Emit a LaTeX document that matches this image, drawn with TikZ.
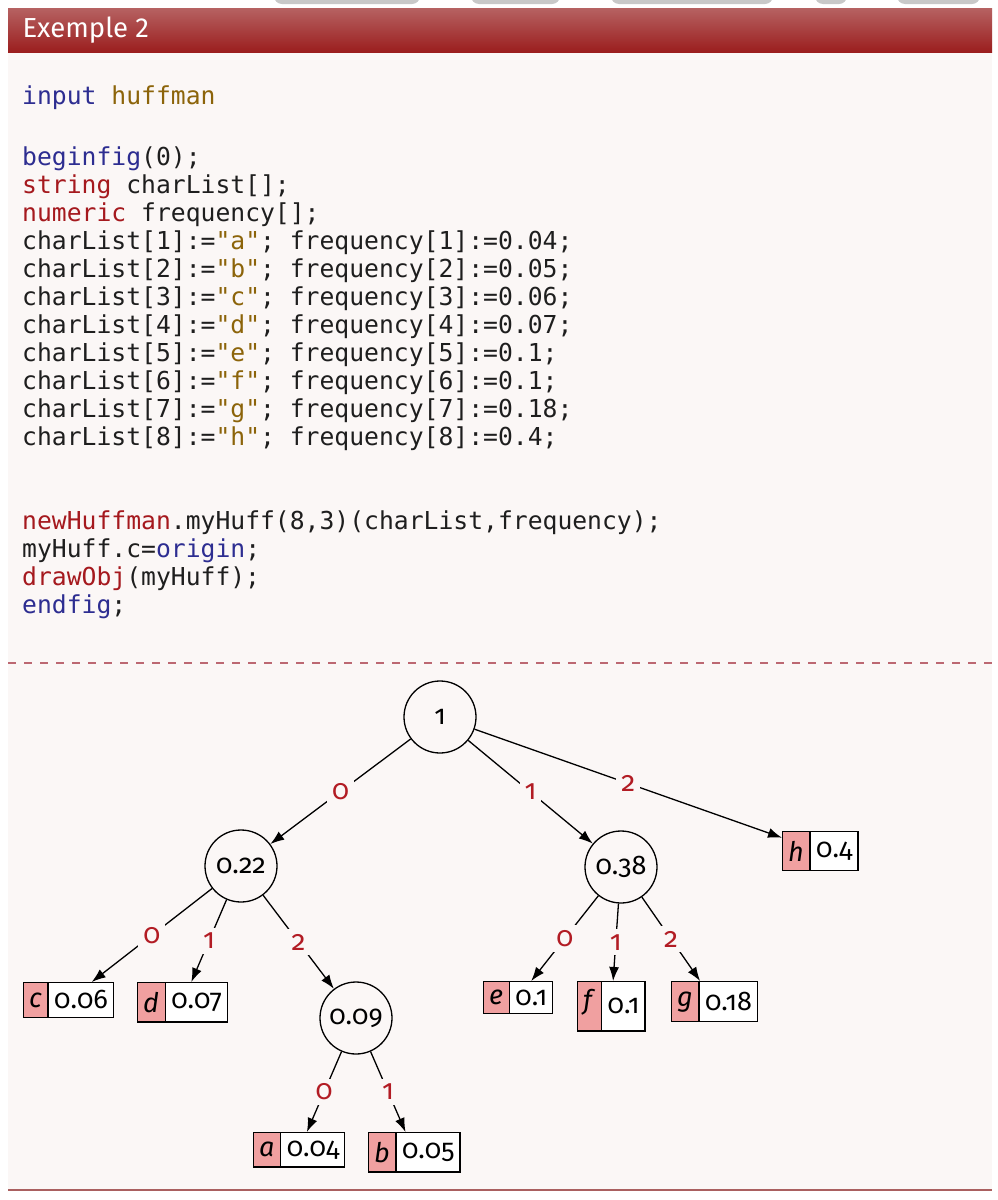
\documentclass[tikz,border=0pt]{standalone}
\usepackage{fontspec}
\setmainfont{Fira Sans}
\setmonofont{DejaVu Sans Mono}
\newfontfamily\treefont[Numbers=OldStyle]{Fira Sans}
\usetikzlibrary{arrows.meta,positioning,shapes.multipart}

\definecolor{framebg}{RGB}{251,247,246}
\definecolor{hdtop}{RGB}{182,98,98}
\definecolor{hdbot}{RGB}{155,30,30}
\definecolor{rulered}{RGB}{170,96,96}
\definecolor{dashred}{RGB}{188,104,114}
\definecolor{tabgray}{RGB}{200,200,200}
\definecolor{kwblue}{RGB}{45,45,145}
\definecolor{kwred}{RGB}{165,25,30}
\definecolor{strgold}{RGB}{140,100,10}
\definecolor{codeblack}{RGB}{30,30,30}
\definecolor{leafred}{RGB}{240,160,160}
\definecolor{lblred}{RGB}{178,28,36}

\begin{document}
\begin{tikzpicture}[x=1pt, y=-1pt,
  code/.style={anchor=base west, inner sep=0pt, text=codeblack,
               font=\ttfamily\fontsize{24.7}{29}\selectfont},
  knot/.style={draw, circle, minimum size=72pt, inner sep=0pt, line width=1.3pt,
               font=\treefont\fontsize{27}{27}\selectfont},
  leaf/.style={draw, line width=1.3pt, anchor=north west,
               rectangle split, rectangle split horizontal, rectangle split parts=2,
               rectangle split part fill={leafred,white},
               inner xsep=5.5pt, inner ysep=8pt, font=\treefont\fontsize{27}{27}\selectfont},
  arr/.style={-{Latex[length=14pt,width=10pt]}, line width=1.3pt},
  elbl/.style={fill=framebg, text=lblred, inner sep=5pt,
               font=\treefont\fontsize{28}{28}\selectfont}
]
\clip (0,0) rectangle (998,1200);
\fill[white] (0,0) rectangle (998,1200);

% tabs of the page above
\foreach \xa/\xb in {274/420, 471/560, 611/773, 815/847, 897/980}
  \fill[tabgray, rounded corners=8pt] (\xa,-20) rectangle (\xb,4);

% frame
\fill[framebg] (8,8) rectangle (992,1190);
\shade[top color=hdtop, bottom color=hdbot] (8,8) rectangle (992,52);
\node[anchor=west, text=white, font=\fontsize{27.5}{27.5}\selectfont] (title) at (19,30) {Exemple 2};
\draw[rulered, line width=2pt] (8,1190) -- (992,1190);
\draw[dashred, line width=1.3pt, dash pattern=on 8pt off 8pt] (8,663) -- (992,663);

% code
\node[code] (cinput) at (22,104) {\textcolor{kwblue}{input} \textcolor{strgold}{huffman}};
\node[code] (cbegin) at (22,165) {\textcolor{kwblue}{beginfig}(0);};
\node[code] (cstring) at (22,193) {\textcolor{kwred}{string} charList[];};
\node[code] (cnum) at (22,221) {\textcolor{kwred}{numeric} frequency[];};
\foreach \i/\ch/\fr in {1/a/0.04, 2/b/0.05, 3/c/0.06, 4/d/0.07, 5/e/0.1, 6/f/0.1, 7/g/0.18, 8/h/0.4}
  \node[code] (cl\i) at (22,{221+28*\i}) {charList[\i]:=\textcolor{strgold}{"\ch"}; frequency[\i]:=\fr;};
\node[code] (cnew) at (22,529) {\textcolor{kwred}{newHuffman}.myHuff(8,3)(charList,frequency);};
\node[code] (corig) at (22,557) {myHuff.c=\textcolor{kwblue}{origin};};
\node[code] (cdraw) at (22,585) {\textcolor{kwred}{drawObj}(myHuff);};
\node[code] (cend) at (22,613) {\textcolor{kwblue}{endfig};};

% tree
\node[knot] (root) at (440,717) {1};
\node[knot] (left) at (241,866) {0.22};
\node[knot] (right) at (621,867) {0.38};
\node[knot] (sub) at (356,1018) {0.09};

\node[leaf] (lh) at (782,831) {\textit{h}\nodepart{two}0.4};
\node[leaf] (lc) at (23,982) {\textit{c}\nodepart{two}0.06};
\node[leaf] (ld) at (137,982) {\textit{d}\nodepart{two}0.07};
\node[leaf] (le) at (483,981) {\textit{e}\nodepart{two}0.1};
\node[leaf] (lf) at (577,981) {\textit{f}\rule[-13pt]{0pt}{1pt}\nodepart{two}0.1};
\node[leaf] (lg) at (671,981) {\textit{g}\nodepart{two}0.18};
\node[leaf] (la) at (253,1132) {\textit{a}\nodepart{two}0.04};
\node[leaf] (lb) at (368,1132) {\textit{b}\nodepart{two}0.05};

\draw[arr] (root) -- (left) node[elbl, midway] {0};
\draw[arr] (root) -- (right) node[elbl, midway] {1};
\draw[arr] (root) -- (lh) node[elbl, midway] {2};
\draw[arr] (left) -- (lc) node[elbl, midway] {0};
\draw[arr] (left) -- (ld) node[elbl, midway] {1};
\draw[arr] (left) -- (sub) node[elbl, midway] {2};
\draw[arr] (right) -- (le) node[elbl, midway] {0};
\draw[arr] (right) -- (lf) node[elbl, midway] {1};
\draw[arr] (right) -- (lg) node[elbl, midway] {2};
\draw[arr] (sub) -- (la) node[elbl, midway] {0};
\draw[arr] (sub) -- (lb) node[elbl, midway] {1};
\end{tikzpicture}
\end{document}
